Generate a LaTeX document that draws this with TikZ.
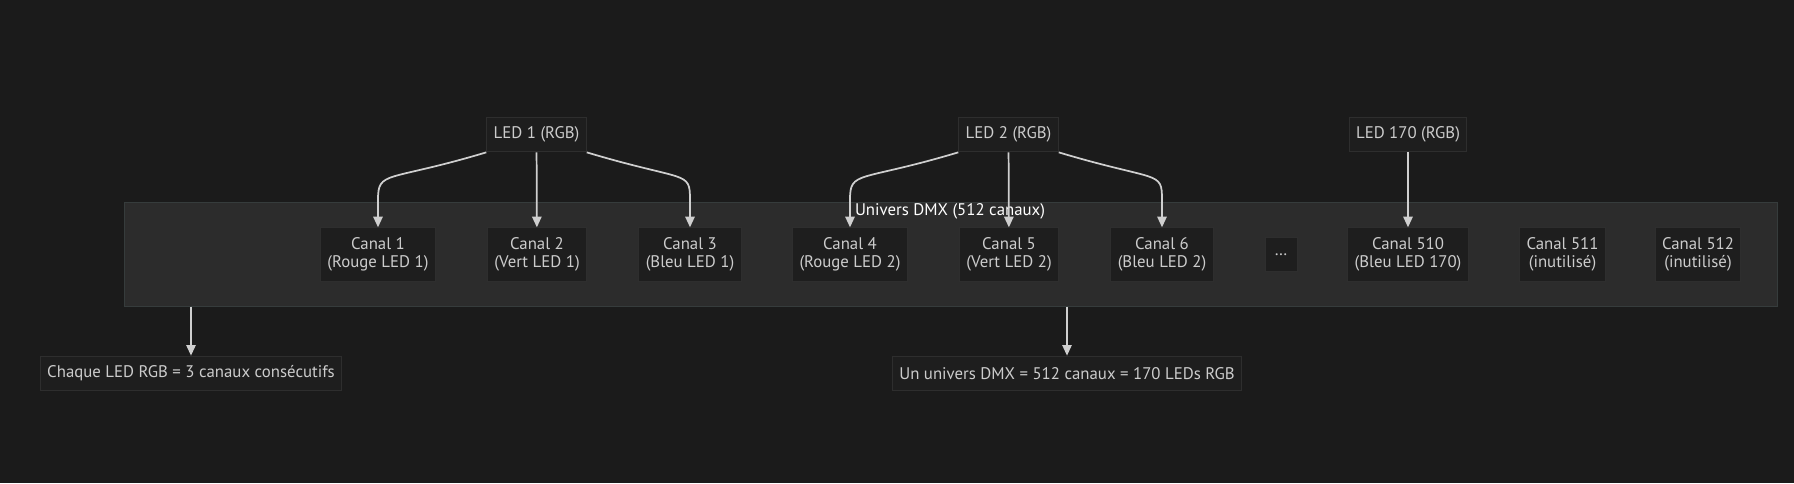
\documentclass[tikz,border=0pt]{standalone}
\usepackage{fontspec}
\setmainfont{PT Sans}
\usetikzlibrary{arrows.meta}
\definecolor{bg}{HTML}{1B1B1B}
\definecolor{clusterfill}{HTML}{2C2C2C}
\definecolor{clusterline}{HTML}{363C3C}
\definecolor{boxfill}{HTML}{1E1E1E}
\definecolor{boxline}{HTML}{2E2E2E}
\definecolor{txt}{HTML}{CCCCCC}
\definecolor{edge}{HTML}{CFCFCF}
\begin{document}
\begin{tikzpicture}[x=0.75pt, y=-0.75pt,
    every node/.style={font=\fontsize{12.6}{13.7}\selectfont, text=txt},
    box/.style={draw=boxline, fill=boxfill, line width=0.75pt, inner xsep=5.2pt, align=center},
    led/.style={box, minimum height=26pt},
    chan/.style={box, minimum height=40pt},
    link/.style={draw=edge, line width=1.3pt, -{Triangle[length=8pt,width=7pt]}}]
    \fill [bg] (0,0) rectangle (1794,483);
    \node [draw=clusterline, fill=clusterfill, line width=0.75pt, minimum width=1239.75pt, minimum height=78pt] (univ) at (950.5,254) {};
    \node [text=white] (title) at (950,211) {Univers DMX (512 canaux)};
    \node [led] (led1) at (536.5,134.5) {LED 1 (RGB)};
    \node [led] (led2) at (1008.5,134.5) {LED 2 (RGB)};
    \node [led] (led170) at (1408,134.5) {LED 170 (RGB)};
    \node [chan] (c1) at (378,254.5) {Canal 1\\(Rouge LED 1)};
    \node [chan] (c2) at (537,254.5) {Canal 2\\(Vert LED 1)};
    \node [chan] (c3) at (690,254.5) {Canal 3\\(Bleu LED 1)};
    \node [chan] (c4) at (850,254.5) {Canal 4\\(Rouge LED 2)};
    \node [chan] (c5) at (1009,254.5) {Canal 5\\(Vert LED 2)};
    \node [chan] (c6) at (1162,254.5) {Canal 6\\(Bleu LED 2)};
    \node [box, minimum width=24pt, minimum height=25pt, inner xsep=2pt] (dots) at (1281,254.5) {\dots};
    \node [chan] (c510) at (1408,254.5) {Canal 510\\(Bleu LED 170)};
    \node [chan] (c511) at (1562.5,254.5) {Canal 511\\(inutilisé)};
    \node [chan] (c512) at (1698,254.5) {Canal 512\\(inutilisé)};
    \node [led] (note1) at (191,373.5) {Chaque LED RGB = 3 canaux consécutifs};
    \node [led] (note2) at (1067,373.5) {Un univers DMX = 512 canaux = 170 LEDs RGB};
    % LED -> canaux
    \draw [link] (led1.south west) .. controls +(-100,30) and +(0,-30) .. (c1.north |- 0,200) -- (c1.north);
    \draw [link] (led1) -- (c2);
    \draw [link] (led1.south east) .. controls +(100,30) and +(0,-30) .. (c3.north |- 0,200) -- (c3.north);
    \draw [link] (led2.south west) .. controls +(-100,30) and +(0,-30) .. (c4.north |- 0,200) -- (c4.north);
    \draw [link] (led2) -- (c5);
    \draw [link] (led2.south east) .. controls +(100,30) and +(0,-30) .. (c6.north |- 0,200) -- (c6.north);
    \draw [link] (led170) -- (c510);
    % univers -> notes
    \draw [link] (note1 |- univ.south) -- (note1.north);
    \draw [link] (note2 |- univ.south) -- (note2.north);
  \end{tikzpicture}
\end{document}
